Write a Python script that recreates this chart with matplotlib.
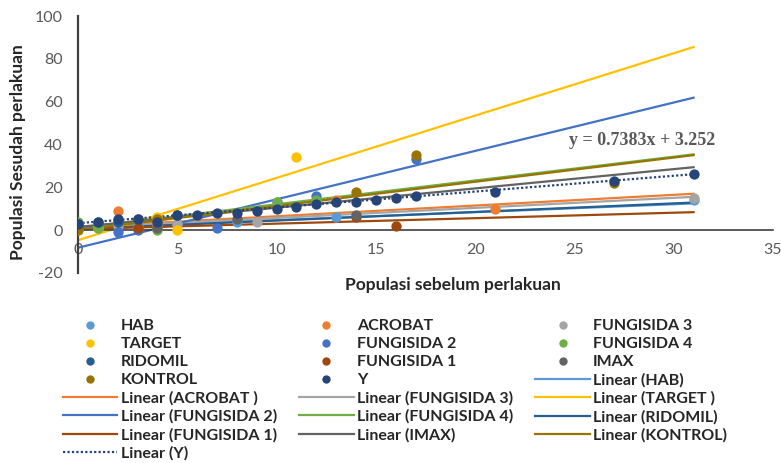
import numpy as np
import matplotlib
matplotlib.use("Agg")
import matplotlib.pyplot as plt
from matplotlib.lines import Line2D

plt.rcParams['font.family'] = ['Lato', 'DejaVu Sans']
plt.rcParams['axes.unicode_minus'] = False

series = ["HAB", "ACROBAT", "FUNGISIDA 3", "TARGET", "FUNGISIDA 2", "FUNGISIDA 4",
          "RIDOMIL", "FUNGISIDA 1", "IMAX", "KONTROL", "Y"]
trend_labels = ["Linear (HAB)", "Linear (ACROBAT )", "Linear (FUNGISIDA 3)", "Linear (TARGET )",
                "Linear (FUNGISIDA 2)", "Linear (FUNGISIDA 4)", "Linear (RIDOMIL)",
                "Linear (FUNGISIDA 1)", "Linear (IMAX)", "Linear (KONTROL)", "Linear (Y)"]
colors = ["#5B9BD5", "#ED7D31", "#A5A5A5", "#FFC000", "#4472C4", "#70AD47",
          "#255E91", "#9E480E", "#636363", "#997300", "#264478"]

hab_x = [0, 1, 3, 5, 8, 10, 13, 31]
hab_y = [2, 1, 2, 3, 4, 13, 6, 14]
acrobat_x = [0, 2, 4, 13, 21]
acrobat_y = [1, 9, 2, 14, 10]
f3_x = [0, 2, 5, 9, 31]
f3_y = [1, 2, 3, 4, 15]
target_x = [0, 1, 4, 5, 11]
target_y = [0, 1, 6, 0, 34]
f2_x = [0, 2, 3, 7, 12, 17]
f2_y = [1, -1, 0, 1, 16, 33]
f4_x = [0, 1, 4, 10, 12]
f4_y = [4, 1, 0, 13, 14]
ridomil_x = [0, 1, 2, 3, 5]
ridomil_y = [3, 4, 4, 5, 7]
f1_x = [0, 3, 14, 16]
f1_y = [1, 1, 6, 2]
imax_x = [0, 4, 8, 14]
imax_y = [2, 1, 5, 7]
kontrol_x = [0, 4, 14, 17, 27]
kontrol_y = [0, 5, 18, 35, 22]
y_x = [0, 1, 2, 3, 4, 5, 6, 7, 8, 9, 10, 11, 12, 13, 14, 15, 16, 17, 21, 27, 31]
y_y = [3, 4, 5, 5, 4, 7, 7, 8, 8, 9, 10, 11, 12, 13, 13, 14, 15, 16, 18, 23, 26]

xs = [hab_x, acrobat_x, f3_x, target_x, f2_x, f4_x, ridomil_x, f1_x, imax_x, kontrol_x, y_x]
ys = [hab_y, acrobat_y, f3_y, target_y, f2_y, f4_y, ridomil_y, f1_y, imax_y, kontrol_y, y_y]

# trendline slopes / intercepts
slopes = [0.37, 0.50, 0.47, 2.91, 2.26, 1.11, 0.40, 0.255, 0.90, 1.13, 0.7383]
intercepts = [1.0, 1.5, 1.0, -4.7, -8.2, 1.0, 0.5, 0.5, 1.5, 0.0, 3.252]
trend_x = [0, 31]

fig = plt.figure(figsize=(7.81, 4.63), dpi=100)
ax = fig.add_axes([78/781, 1-273/463, (773-78)/781, (273-16)/463])

handles = []
for i, name in enumerate(series):
    ax.scatter(xs[i], ys[i], s=55, color=colors[i], zorder=3, linewidths=0)
    handles.append(Line2D([], [], marker='o', linestyle='none', markersize=6,
                          markerfacecolor=colors[i], markeredgecolor='none', label=name))
for i, lab in enumerate(trend_labels):
    tx = np.array(trend_x, dtype=float)
    ty = slopes[i] * tx + intercepts[i]
    ls = (0, (1, 1)) if series[i] == "Y" else '-'
    ax.plot(tx, ty, color=colors[i], lw=1.6, linestyle=ls, zorder=2)
    handles.append(Line2D([], [], color=colors[i], lw=1.6, linestyle=ls, label=lab))

ax.set_xlim(0, 35)
ax.set_ylim(-20, 100)
ax.set_xticks(np.arange(0, 36, 5))
ax.set_yticks(np.arange(-20, 101, 20))
for s in ['top', 'right']:
    ax.spines[s].set_visible(False)
ax.spines['bottom'].set_position(('data', 0))
ax.spines['left'].set_position(('data', 0))
ax.spines['bottom'].set_color('#404040')
ax.spines['left'].set_color('#404040')
ax.spines['bottom'].set_linewidth(1.2)
ax.spines['left'].set_linewidth(1.6)
ax.tick_params(length=0, labelsize=11.5, colors='#595959')
ax.tick_params(axis='y', pad=11)
ax.tick_params(axis='x', pad=9)

ax.text(28.4, 42, "y = 0.7383x + 3.252", family=['Liberation Serif'], fontsize=13,
        color='#595959', ha='center', va='center', fontweight='bold')

fig.text(453/781, 1-285/463, "Populasi sebelum perlakuan", ha='center', va='center',
         fontsize=12.5, fontweight='bold', color='#262626')
fig.text(18/781, 1-152/463, "Populasi Sesudah perlakuan", ha='center', va='center',
         rotation=90, fontsize=12.5, fontweight='bold', color='#262626')

# reorder row-wise -> column-major for 3 columns
ncol = 3
order = []
for c in range(ncol):
    order.extend(range(c, len(handles), ncol))
h_ordered = [handles[k] for k in order]
leg = fig.legend(handles=h_ordered, loc='upper left', bbox_to_anchor=(52/781, 1-308/463),
                 ncol=ncol, frameon=False, handlelength=3.4,
                 columnspacing=1.4, handletextpad=0.2, labelspacing=0.24,
                 borderpad=0.2, prop={'weight': 'bold', 'size': 11.5})
for t in leg.get_texts():
    t.set_color('#262626')

fig.savefig("out.png", dpi=100)
